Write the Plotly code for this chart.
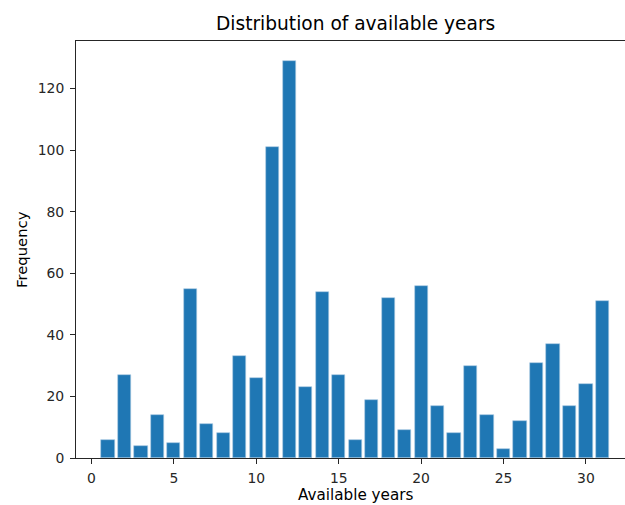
import plotly.graph_objects as go

# Number of records per count of available years
years = list(range(1, 32))
frequency = [6, 27, 4, 14, 5, 55, 11, 8, 33, 26, 101, 129, 23, 54, 27, 6,
             19, 52, 9, 56, 17, 8, 30, 14, 3, 12, 31, 37, 17, 24, 51]

x_ticks = [0, 5, 10, 15, 20, 25, 30]
y_ticks = [0, 20, 40, 60, 80, 100, 120]

W, H = 625, 505
L, R, T, B = 76, 0, 41, 47
plot_w = W - L - R
plot_h = H - T - B

FONT = "DejaVu Sans"
INK = "#262626"

fig = go.Figure(
    go.Bar(
        x=years,
        y=frequency,
        width=0.8,
        marker=dict(color="#1f77b4", line=dict(color="#a9c9e2", width=0.6)),
    )
)

# the axes continue a little past the right edge of the canvas
x_range = [-0.94, 32.37]
y_max = max(frequency) * 1.05

axis_common = dict(
    showgrid=False,
    zeroline=False,
    showline=True,
    linecolor=INK,
    linewidth=1,
    ticks="outside",
    ticklen=5,
    tickwidth=1,
    tickcolor=INK,
    tickfont=dict(family=FONT, size=13.9, color=INK),
)

fig.update_layout(
    width=W,
    height=H,
    margin=dict(l=L, r=R, t=T, b=B, pad=0),
    paper_bgcolor="white",
    plot_bgcolor="white",
    showlegend=False,
    bargap=0,
    xaxis=dict(range=x_range, tickvals=x_ticks, mirror=True, ticklabelstandoff=2, **axis_common),
    yaxis=dict(range=[0, y_max], tickvals=y_ticks, ticklabelstandoff=3, **axis_common),
    annotations=[
        dict(
            text="Distribution of available years",
            x=16, xref="x", xanchor="center",
            y=1 + 18 / plot_h, yref="paper", yanchor="middle",
            showarrow=False, font=dict(family=FONT, size=18.6, color="black"),
        ),
        dict(
            text="Available years",
            x=16, xref="x", xanchor="center",
            y=-37 / plot_h, yref="paper", yanchor="middle",
            showarrow=False, font=dict(family=FONT, size=15.2, color="black"),
        ),
        dict(
            text="Frequency",
            x=(21 - L) / plot_w, xref="paper", xanchor="center",
            y=(458 - 250) / plot_h, yref="paper", yanchor="middle",
            textangle=-90,
            showarrow=False, font=dict(family=FONT, size=14.8, color="black"),
        ),
    ],
)

fig.write_html("out.html")
